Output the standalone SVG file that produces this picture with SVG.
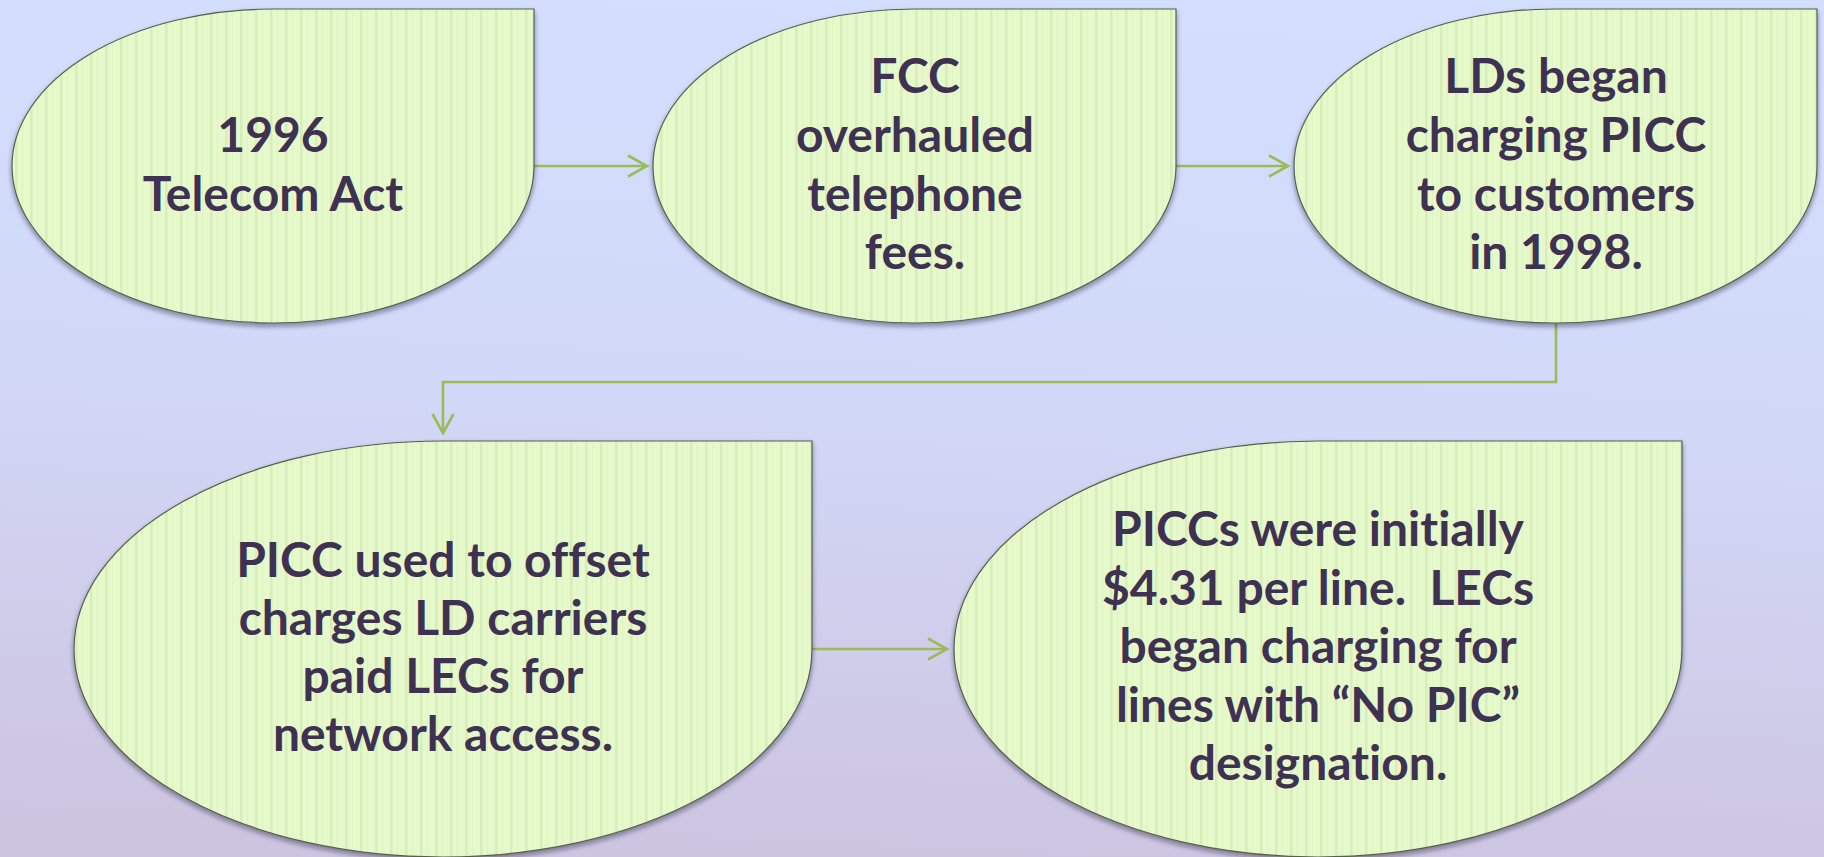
<svg xmlns="http://www.w3.org/2000/svg" width="1824" height="857" viewBox="0 0 1824 857">
  <defs>
    <linearGradient id="bg" x1="0.55" y1="0" x2="0.45" y2="1">
      <stop offset="0" stop-color="#D4DEFE"/>
      <stop offset="0.45" stop-color="#D2D9F8"/>
      <stop offset="1" stop-color="#CDC4E0"/>
    </linearGradient>
    <pattern id="stripes" patternUnits="userSpaceOnUse" width="15" height="20">
      <rect width="15" height="20" fill="#E6F9CA"/>
      <rect x="0" width="2.5" height="20" fill="#D8EDBB"/>
      <rect x="7" width="1" height="20" fill="#DEF2C2"/>
    </pattern>
    <filter id="shadow" x="-10%" y="-10%" width="120%" height="125%">
      <feDropShadow dx="0" dy="3" stdDeviation="2.5" flood-color="#1a1a2a" flood-opacity="0.45"/>
    </filter>
    <marker id="arrow" markerUnits="userSpaceOnUse" markerWidth="30" markerHeight="30" viewBox="-24 -15 28 30" refX="0" refY="0" orient="auto">
      <path d="M-19,-10.5 L0,0 L-19,10.5" fill="none" stroke="#9BBB59" stroke-width="2.6"/>
    </marker>
    <style>
      .node { fill: url(#stripes); stroke: #56604E; stroke-width: 1.2; filter: url(#shadow); }
      .conn { fill: none; stroke: #9BBB59; stroke-width: 2.6; marker-end: url(#arrow); }
      .label { font-family: Lato, "Liberation Sans", sans-serif; font-weight: bold; font-size: 48px; fill: #3F3151; text-anchor: middle; font-variant-ligatures: none; font-feature-settings: "liga" 0, "clig" 0; }
    </style>
  </defs>

  <rect x="0" y="0" width="1824" height="857" fill="url(#bg)"/>

  <g id="connectors">
    <path class="conn" d="M534,166 H647"/>
    <path class="conn" d="M1176,166 H1288"/>
    <path class="conn" d="M1556,323 V382 H443 V433"/>
    <path class="conn" d="M812,649 H947"/>
  </g>

  <g id="node1">
    <path class="node" d="M12,166 A261,157 0 0 1 273,9 H534 V166 A261,157 0 0 1 273,323 A261,157 0 0 1 12,166 Z"/>
    <text class="label"><tspan x="273" y="152">1996</tspan><tspan x="273" y="211">Telecom Act</tspan></text>
  </g>

  <g id="node2">
    <path class="node" d="M653,166 A261.5,157 0 0 1 914.5,9 H1176 V166 A261.5,157 0 0 1 914.5,323 A261.5,157 0 0 1 653,166 Z"/>
    <text class="label"><tspan x="915" y="93">FCC</tspan><tspan x="915" y="152">overhauled</tspan><tspan x="915" y="211">telephone</tspan><tspan x="915" y="269">fees.</tspan></text>
  </g>

  <g id="node3">
    <path class="node" d="M1294,166 A261.5,157 0 0 1 1555.5,9 H1817 V166 A261.5,157 0 0 1 1555.5,323 A261.5,157 0 0 1 1294,166 Z"/>
    <text class="label"><tspan x="1556" y="93">LDs began</tspan><tspan x="1556" y="152">charging PICC</tspan><tspan x="1556" y="211">to customers</tspan><tspan x="1556" y="269">in 1998.</tspan></text>
  </g>

  <g id="node4">
    <path class="node" d="M74,649 A369,208 0 0 1 443,441 H812 V649 A369,208 0 0 1 443,857 A369,208 0 0 1 74,649 Z"/>
    <text class="label"><tspan x="443" y="577">PICC used to offset</tspan><tspan x="443" y="635">charges LD carriers</tspan><tspan x="443" y="693">paid LECs for</tspan><tspan x="443" y="751">network access.</tspan></text>
  </g>

  <g id="node5">
    <path class="node" d="M954,649 A364,208 0 0 1 1318,441 H1682 V649 A364,208 0 0 1 1318,857 A364,208 0 0 1 954,649 Z"/>
    <text class="label"><tspan x="1318" y="546">PICCs were initially</tspan><tspan x="1318" y="605">$4.31 per line.&#160; LECs</tspan><tspan x="1318" y="663">began charging for</tspan><tspan x="1318" y="722">lines with “No PIC”</tspan><tspan x="1318" y="780">designation.</tspan></text>
  </g>
</svg>
